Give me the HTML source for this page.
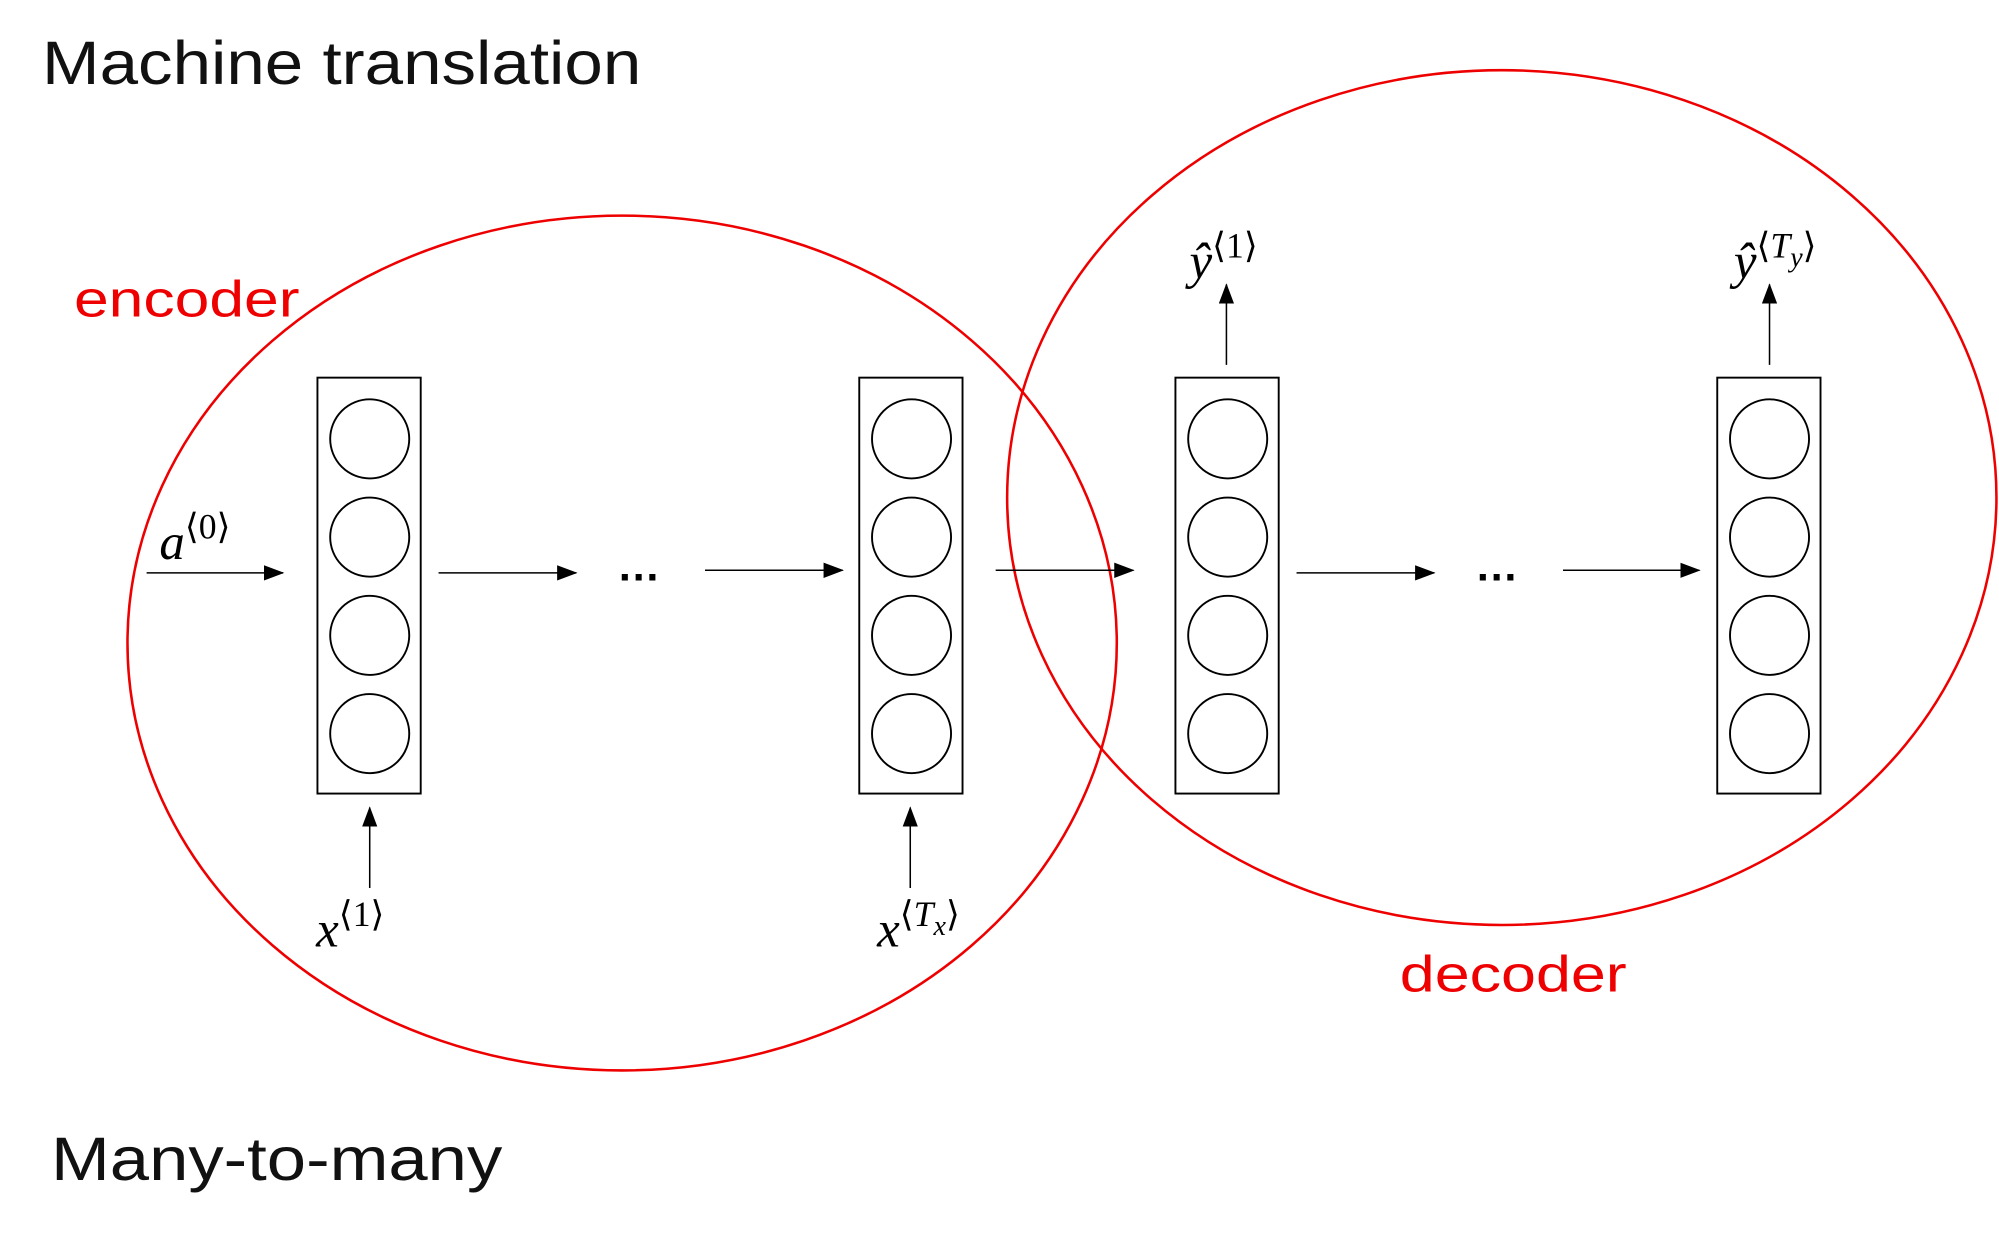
<!DOCTYPE html>
<html><head><meta charset="utf-8"><style>
html,body{margin:0;padding:0;background:#fff;}
svg{display:block}
.t{font-family:"Liberation Sans",sans-serif;}
.m{font-family:"Liberation Serif",serif;font-style:italic;}
</style></head><body>
<svg width="1999" height="1235" viewBox="0 0 1568 968" preserveAspectRatio="none" xmlns="http://www.w3.org/2000/svg">
<defs>
<marker id="a2" markerWidth="16" markerHeight="12" refX="15" refY="6" orient="auto" markerUnits="userSpaceOnUse"><path d="M0,0 L16,6 L0,12 z" fill="#000"/></marker></defs>
<text class="t" x="33" y="66" font-size="48" fill="#111" textLength="470" lengthAdjust="spacingAndGlyphs">Machine translation</text>
<text class="t" x="40" y="925" font-size="48" fill="#111" textLength="354" lengthAdjust="spacingAndGlyphs">Many-to-many</text>
<text class="t" x="58" y="248" font-size="40" fill="#e00" textLength="177" lengthAdjust="spacingAndGlyphs">encoder</text>
<text class="t" x="1098" y="777" font-size="40" fill="#e00" textLength="178" lengthAdjust="spacingAndGlyphs">decoder</text>
<ellipse cx="488" cy="504" rx="388" ry="335" fill="none" stroke="#e00" stroke-width="2"/>
<ellipse cx="1178" cy="390" rx="388" ry="335" fill="none" stroke="#e00" stroke-width="2"/>
<g id="cells" stroke="#000" stroke-width="1.5" fill="none"></g>
<g stroke="#000" stroke-width="1.2">
<line x1="115" y1="449" x2="222" y2="449" marker-end="url(#a2)"/>
<line x1="344" y1="449" x2="452" y2="449" marker-end="url(#a2)"/>
<line x1="553" y1="447" x2="661" y2="447" marker-end="url(#a2)"/>
<line x1="781" y1="447" x2="889" y2="447" marker-end="url(#a2)"/>
<line x1="1017" y1="449" x2="1125" y2="449" marker-end="url(#a2)"/>
<line x1="1226" y1="447" x2="1333" y2="447" marker-end="url(#a2)"/>
<line x1="290" y1="696" x2="290" y2="633" marker-end="url(#a2)"/>
<line x1="714" y1="696" x2="714" y2="633" marker-end="url(#a2)"/>
<line x1="962" y1="286" x2="962" y2="223" marker-end="url(#a2)"/>
<line x1="1388" y1="286" x2="1388" y2="223" marker-end="url(#a2)"/>
</g>
<text class="t" x="484" y="455" font-size="34" font-weight="bold">…</text>
<text class="t" x="1157" y="455" font-size="34" font-weight="bold">…</text>
<text class="m" x="125" y="438" font-size="40">a<tspan font-style="normal" font-size="28" dy="-16">⟨0⟩</tspan></text>
<text class="m" x="248" y="742" font-size="40">x<tspan font-style="normal" font-size="28" dy="-16">⟨1⟩</tspan></text>
<text class="m" x="688" y="742" font-size="40">x<tspan font-style="normal" font-size="28" dy="-16">⟨</tspan><tspan font-size="28">T</tspan><tspan font-size="22" dy="7">x</tspan><tspan font-style="normal" font-size="28" dy="-7">⟩</tspan></text>
<text class="m" x="933" y="218" font-size="40">ŷ<tspan font-style="normal" font-size="28" dy="-16">⟨1⟩</tspan></text>
<text class="m" x="1360" y="218" font-size="40">ŷ<tspan font-style="normal" font-size="28" dy="-16">⟨</tspan><tspan font-size="28">T</tspan><tspan font-size="22" dy="7">y</tspan><tspan font-style="normal" font-size="28" dy="-7">⟩</tspan></text>
</svg>
<script>
const boxX=[249,674,922,1347];
const unitY=[344,421,498,575];
const g=document.getElementById('cells');
const NS='http://www.w3.org/2000/svg';
boxX.forEach((x,i)=>{
 const r=document.createElementNS(NS,'rect');
 r.setAttribute('x',x);r.setAttribute('y',296);r.setAttribute('width',81);r.setAttribute('height',326);
 
 
 g.appendChild(r);
 unitY.forEach(y=>{
  const c=document.createElementNS(NS,'circle');
  c.setAttribute('cx',x+41);c.setAttribute('cy',y);c.setAttribute('r',31);
  
  
  g.appendChild(c);
 });
});
</script>
</body></html>
